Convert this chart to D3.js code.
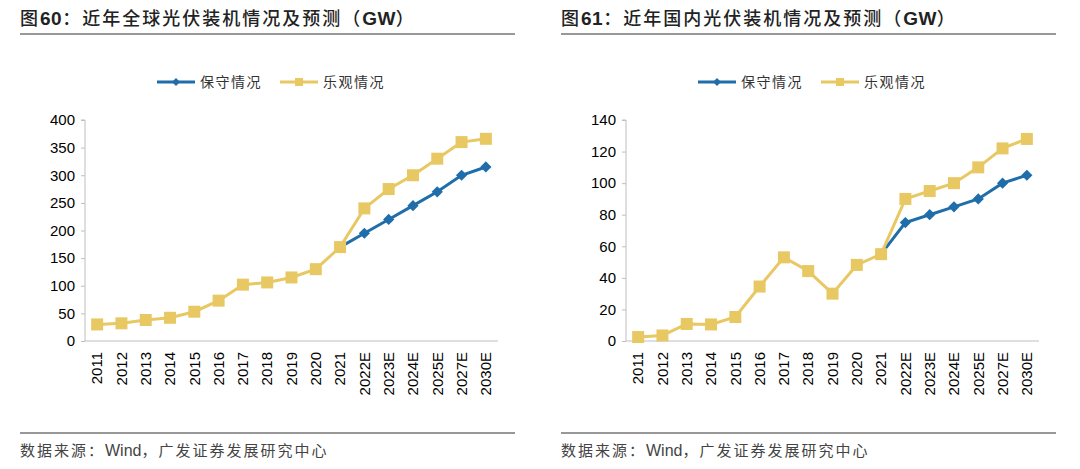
<!DOCTYPE html>
<html>
<head>
<meta charset="utf-8">
<script src="https://cdn.jsdelivr.net/npm/d3@7"></script>
<style>
  body { margin: 0; background: #fff; }
  svg { display: block; }
  .tick text { font-family: "Liberation Sans", Arial, sans-serif; fill: #000; }
</style>
</head>
<body>
<svg id="chart" width="1080" height="469"></svg>
<script>
// categories shared by both panels
const years = ["2011","2012","2013","2014","2015","2016","2017","2018","2019","2020","2021",
               "2022E","2023E","2024E","2025E","2027E","2030E"];

// global installs (GW)
const globalOptimistic   = [30, 32, 38, 42, 53, 73, 102, 106, 115, 130, 170, 240, 275, 300, 330, 360, 366];
const globalConservative = [null, null, null, null, null, null, null, null, null, null, 170, 195, 220, 245, 270, 300, 315];
const globalTicks = [0, 50, 100, 150, 200, 250, 300, 350, 400];

// domestic installs (GW)
const chinaOptimistic   = [2.5, 3.5, 10.8, 10.5, 15.2, 34.5, 53, 44.3, 30, 48.2, 55, 90, 95, 100, 110, 122, 128];
const chinaConservative = [null, null, null, null, null, null, null, null, null, null, 55, 75, 80, 85, 90, 100, 105];
const chinaTicks = [0, 20, 40, 60, 80, 100, 120, 140];

const blue = "#1f6eaa", yellow = "#e8c863", axisGray = "#bfbfbf";
const cjk = '"Noto Sans CJK SC", sans-serif';
const latin = '"Liberation Sans", Arial, sans-serif';

const svg = d3.select("#chart");

function panel(x0, figNo, titleText, optimistic, conservative, ticks) {
  const g = svg.append("g").attr("transform", `translate(${x0},0)`);

  // title
  const t = g.append("text").attr("x", 0).attr("y", 25)
    .style("font-family", cjk).style("font-size", "18px").style("font-weight", 500)
    .style("letter-spacing", "2px").attr("fill", "#222");
  t.append("tspan").text("图");
  t.append("tspan").text(figNo).style("font-family", latin)
    .style("font-weight", "bold").style("font-size", "19px").style("letter-spacing", "0.5px");
  t.append("tspan").text("：" + titleText + "（");
  t.append("tspan").text("GW").style("font-family", latin)
    .style("font-weight", "bold").style("font-size", "19px").style("letter-spacing", "0.5px");
  t.append("tspan").text("）");

  g.append("line").attr("x1", 0).attr("x2", 495).attr("y1", 34).attr("y2", 34)
    .attr("stroke", "#333").attr("stroke-width", 1.2);
  g.append("line").attr("x1", 0).attr("x2", 495).attr("y1", 433).attr("y2", 433)
    .attr("stroke", "#333").attr("stroke-width", 1.2);

  // source note
  const s = g.append("text").attr("x", 0).attr("y", 456)
    .style("font-family", cjk).style("font-size", "15px").style("letter-spacing", "2px")
    .attr("fill", "#444");
  s.append("tspan").text("数据来源：");
  s.append("tspan").text("Wind").style("font-family", latin).style("font-size", "16px")
    .style("letter-spacing", "0px");
  s.append("tspan").text("，广发证券发展研究中心");

  // legend
  const lg = g.append("g").attr("transform", "translate(0,82)");
  lg.append("line").attr("x1", 137).attr("x2", 175).attr("stroke", blue).attr("stroke-width", 3);
  lg.append("path").attr("d", d3.symbol(d3.symbolDiamond2, 40)()).attr("transform", "translate(156,0)")
    .attr("fill", blue);
  lg.append("text").attr("x", 180).attr("y", 5).style("font-family", cjk).style("font-size", "14px")
    .style("letter-spacing", "1.5px").attr("fill", "#333").text("保守情况");
  lg.append("line").attr("x1", 260).attr("x2", 298).attr("stroke", yellow).attr("stroke-width", 3);
  lg.append("rect").attr("x", 275).attr("y", -4).attr("width", 8).attr("height", 8).attr("fill", yellow);
  lg.append("text").attr("x", 303).attr("y", 5).style("font-family", cjk).style("font-size", "14px")
    .style("letter-spacing", "1.5px").attr("fill", "#333").text("乐观情况");

  // plot
  const left = 65, right = 478, top = 120, bottom = 341;
  const x = d3.scaleBand().domain(years).range([left, right]);
  const y = d3.scaleLinear().domain([0, d3.max(ticks)]).range([bottom, top]);

  g.append("g").attr("transform", `translate(${left},0)`)
    .call(d3.axisLeft(y).tickValues(ticks).tickSize(4).tickPadding(6))
    .call(a => a.select(".domain").attr("stroke", axisGray).attr("d", `M-4,${top}H0V${bottom}`))
    .call(a => a.selectAll(".tick line").attr("stroke", axisGray))
    .call(a => a.selectAll(".tick text").style("font-size", "15px"));

  g.append("g").attr("transform", `translate(0,${bottom})`)
    .call(d3.axisBottom(x).tickSize(0).tickPadding(0))
    .call(a => a.select(".domain").attr("stroke", axisGray).attr("d", `M${left},0H${right}`))
    .call(a => a.selectAll(".tick text")
      .style("font-size", "15px")
      .attr("text-anchor", "end")
      .attr("transform", "rotate(-90)")
      .attr("x", -11).attr("y", 0).attr("dy", "0.35em"));

  const cx = (d, i) => x(years[i]) + x.bandwidth() / 2;
  const line = d3.line().defined(d => d != null).x(cx).y(d => y(d));

  g.append("path").datum(conservative).attr("d", line)
    .attr("fill", "none").attr("stroke", blue).attr("stroke-width", 3);
  g.selectAll(".dia").data(conservative.map((v, i) => ({ v, i })).filter(d => d.v != null))
    .enter().append("path").attr("class", "dia")
    .attr("d", d3.symbol(d3.symbolDiamond2, 80)())
    .attr("transform", d => `translate(${cx(d.v, d.i)},${y(d.v)})`)
    .attr("fill", blue);

  g.append("path").datum(optimistic).attr("d", line)
    .attr("fill", "none").attr("stroke", yellow).attr("stroke-width", 3);
  g.selectAll(".sq").data(optimistic).enter()
    .append("rect").attr("class", "sq")
    .attr("x", (d, i) => cx(d, i) - 6).attr("y", d => y(d) - 6)
    .attr("width", 12).attr("height", 12).attr("fill", yellow);
}

panel(20, "60", "近年全球光伏装机情况及预测", globalOptimistic, globalConservative, globalTicks);
panel(561, "61", "近年国内光伏装机情况及预测", chinaOptimistic, chinaConservative, chinaTicks);
</script>
</body>
</html>
